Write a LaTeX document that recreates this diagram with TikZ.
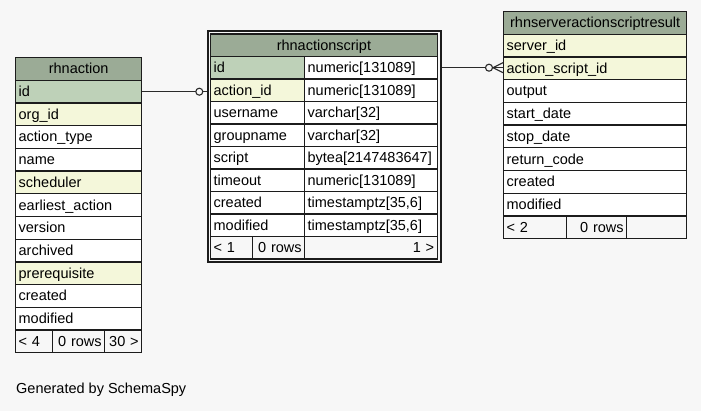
\documentclass[tikz,border=0pt]{standalone}
\usepackage{fontspec}
\setmainfont{Liberation Sans}
\usetikzlibrary{calc}

\definecolor{canvas}{HTML}{F7F7F7}
\definecolor{headbg}{HTML}{9BAB96}
\definecolor{pkbg}{HTML}{BED1B8}
\definecolor{fkbg}{HTML}{F4F7DA}
\definecolor{edge}{HTML}{1C1C1C}
\definecolor{linkc}{HTML}{2A2A2A}

\newcommand{\tabfont}{\fontsize{14.5}{17}\selectfont}

\tikzset{
  cell/.style={draw=edge, line width=1.3pt, fill=white, anchor=north west,
    inner xsep=3pt, inner ysep=0pt, minimum height=22.7pt,
    text height=10.5pt, text depth=0.8pt, align=left, font=\tabfont},
  shortrow/.style={minimum height=22.5pt},
  headcell/.style={fill=headbg, align=center},
  footcell/.style={fill=canvas},
  conn/.style={draw=linkc, line width=1.1pt},
}

\begin{document}
\begin{tikzpicture}[x=1pt, y=-1pt]
  \fill[canvas] (0,0) rectangle (701,411);
  \useasboundingbox (0,0) rectangle (701,411);

  % ---- table rhnaction ----
  \node[cell, headcell, text width=120pt] (ra-head) at (15,57) {rhnaction};
  \foreach \k/\t/\bg [count=\i from 0] in {
      id/id/pkbg, org/org\_id/fkbg, type/action\_type/white, name/name/white,
      sched/scheduler/fkbg, earliest/earliest\_action/white, version/version/white,
      archived/archived/white, prereq/prerequisite/fkbg, created/created/white,
      modified/modified/white}
    \node[cell, fill=\bg, text width=120pt] (ra-\k) at (15,{79.7+\i*22.7}) {\t};
  \node[cell, footcell, text width=31pt] (ra-prev) at (15,329.4) {< 4};
  \node[cell, footcell, align=right, text width=46pt] (ra-rows) at (52,329.4) {0 rows};
  \node[cell, footcell, align=right, text width=31pt] (ra-next) at (104,329.4) {30 >};

  % ---- table rhnactionscript (double frame) ----
  \node[draw=edge, line width=2pt, inner sep=0pt, minimum width=233pt,
        minimum height=230.7pt, anchor=north west] (ras-frame) at (206.7,30.3) {};
  \node[cell, shortrow, headcell, text width=220.5pt] (ras-head) at (210,33.3) {rhnactionscript};
  \foreach \k/\t/\bg/\ty [count=\i from 0] in {
      {id/id/pkbg/numeric[131089]},
      {aid/action\_id/fkbg/numeric[131089]},
      {user/username/white/varchar[32]},
      {group/groupname/white/varchar[32]},
      {script/script/white/bytea[2147483647]},
      {timeout/timeout/white/numeric[131089]},
      {created/created/white/timestamptz[35,6]},
      {modified/modified/white/timestamptz[35,6]}} {
    \node[cell, shortrow, fill=\bg, text width=88pt] (ras-\k) at (210,{55.8+\i*22.5}) {\t};
    \node[cell, shortrow, text width=126.5pt] (ras-\k-ty) at (304,{55.8+\i*22.5}) {\ty};
  }
  \node[cell, shortrow, footcell, text width=36pt] (ras-prev) at (210,235.8) {< 1};
  \node[cell, shortrow, footcell, align=right, text width=46pt] (ras-rows) at (252,235.8) {0 rows};
  \node[cell, shortrow, footcell, align=right, text width=126.5pt] (ras-next) at (304,235.8) {1 >};

  % ---- table rhnserveractionscriptresult ----
  \node[cell, headcell, text width=177pt] (rr-head) at (503,11) {rhnserveractionscriptresult};
  \foreach \k/\t/\bg [count=\i from 0] in {
      server/server\_id/fkbg, asid/action\_script\_id/fkbg, output/output/white,
      start/start\_date/white, stop/stop\_date/white, rc/return\_code/white,
      created/created/white, modified/modified/white}
    \node[cell, fill=\bg, text width=177pt] (rr-\k) at (503,{33.7+\i*22.7}) {\t};
  \node[cell, footcell, text width=57pt] (rr-prev) at (503,215.3) {< 2};
  \node[cell, footcell, align=right, text width=54pt] (rr-rows) at (566,215.3) {0 rows};
  \node[cell, footcell, text width=54pt] (rr-next) at (626,215.3) {};

  % ---- relationships ----
  % rhnaction.id -> rhnactionscript.action_id
  \draw[conn] (ra-id.east) -- (ra-id.east -| ras-frame.west);
  \path[conn, fill=canvas] ($(ra-id.east -| ras-frame.west)+(-7.4,0)$) circle[radius=3.5pt];

  % rhnactionscript.id -> rhnserveractionscriptresult.action_script_id
  \draw[conn] (ras-id-ty -| ras-frame.east) -- (ras-id-ty -| rr-asid.west);
  \path[conn, fill=canvas] ($(ras-id-ty -| rr-asid.west)+(-14,0)$) circle[radius=3.5pt];
  \draw[conn] ($(ras-id-ty -| rr-asid.west)+(-10,0)$) -- ($(ras-id-ty -| rr-asid.west)+(0,-5)$);
  \draw[conn] ($(ras-id-ty -| rr-asid.west)+(-10,0)$) -- ($(ras-id-ty -| rr-asid.west)+(0,5)$);

  % ---- footer caption ----
  \node[anchor=base west, inner sep=0pt, font=\tabfont] (caption) at (16,393.3) {Generated by SchemaSpy};
\end{tikzpicture}
\end{document}
